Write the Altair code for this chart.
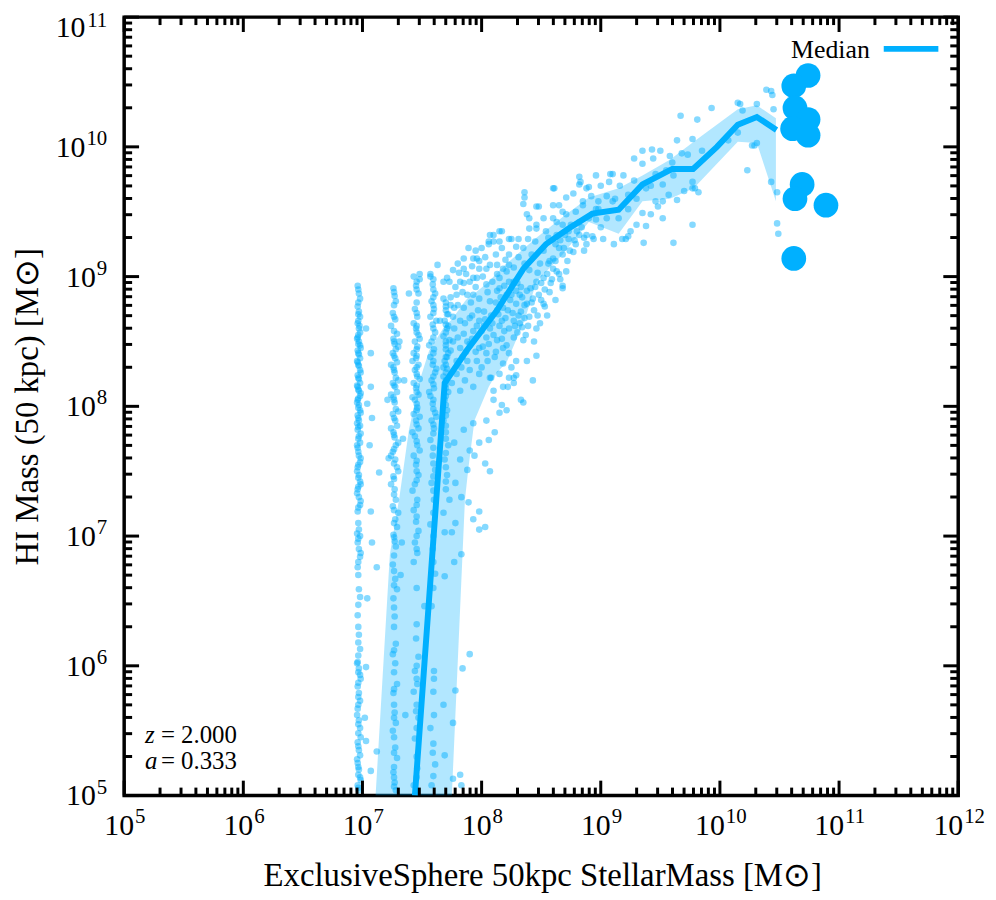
import numpy as np
import pandas as pd
import altair as alt

BLUE = "#00b0ff"
SERIF = "Liberation Serif"
W, H = 840, 784

# median HI mass in stellar-mass bins, log10(M / Msun)
median_log_mstar = [7.44, 7.69, 7.875, 8.125, 8.35, 8.54, 8.73, 8.93, 9.15, 9.35, 9.60, 9.775, 9.975, 10.15, 10.31, 10.475]
median_log_mhi = [5.0, 8.18, 8.43, 8.735, 9.06, 9.25, 9.37, 9.485, 9.515, 9.71, 9.83, 9.83, 10.0, 10.17, 10.23, 10.13]

# shaded scatter band around the median
band_log_mstar = [7.11, 7.23, 7.31, 7.39, 7.48, 7.56, 7.69, 7.75, 7.86, 7.89, 7.94, 8.06, 8.13, 8.21,
                  8.36, 8.46, 8.68, 8.90, 9.15, 9.35, 9.58, 9.78, 10.15, 10.31, 10.47]
band_log_lo = [5.0, 5.0, 5.0, 5.0, 5.0, 5.0, 5.0, 5.0, 7.28, 7.53, 7.89, 8.15, 8.26, 8.34,
               8.66, 8.96, 9.17, 9.42, 9.33, 9.58, 9.60, 9.68, 10.04, 10.03, 9.58]
band_log_hi = [5.0, 6.86, 7.30, 7.82, 8.20, 8.43, 8.62, 8.67, 8.81, 8.84, 8.87, 8.96, 9.03, 9.10,
               9.22, 9.30, 9.46, 9.61, 9.68, 9.78, 9.90, 10.04, 10.29, 10.32, 10.22]

# individual galaxies (log10 M*, log10 MHI); low masses sit on stellar-particle stripes
stripe_1 = [
    (6.96, 8.93), (6.97, 8.87), (6.98, 8.83), (6.96, 8.77), (6.97, 8.73), (6.98, 8.69), (6.96, 8.64),
    (6.97, 8.60), (6.98, 8.57), (6.96, 8.53), (6.97, 8.50), (6.98, 8.47), (6.96, 8.43), (6.97, 8.40),
    (6.98, 8.37), (6.96, 8.34), (6.97, 8.31), (6.98, 8.28), (6.96, 8.24), (6.97, 8.21), (6.98, 8.18),
    (6.96, 8.15), (6.97, 8.12), (6.98, 8.08), (6.96, 8.05), (6.97, 8.01), (6.98, 7.97), (6.96, 7.93),
    (6.97, 7.89), (6.98, 7.85), (6.96, 7.82), (6.97, 7.77), (6.98, 7.72), (6.96, 7.68), (6.97, 7.62),
    (6.98, 7.57), (6.96, 7.53), (6.97, 7.47), (6.98, 7.42), (6.96, 7.36), (6.97, 7.30), (6.98, 7.24),
    (6.96, 7.19), (6.97, 7.05), (6.98, 7.00), (6.96, 6.95), (6.97, 6.90), (6.98, 6.84), (6.96, 6.76),
    (6.97, 6.59), (6.98, 6.53), (6.96, 6.39), (6.97, 6.24), (6.98, 6.13), (6.96, 6.03), (6.97, 5.98),
    (6.98, 5.93), (6.96, 5.84), (6.97, 5.79), (6.98, 5.73), (6.96, 5.67), (6.97, 5.58), (6.98, 5.52),
    (6.96, 5.41), (6.97, 5.35), (6.98, 5.31), (6.96, 5.25), (6.97, 5.20), (6.98, 5.14), (6.96, 5.08),
    (6.97, 5.04), (6.975, 8.62), (6.955, 8.52), (6.985, 8.45), (6.955, 8.35), (6.985, 8.26),
    (6.955, 8.16), (6.985, 8.10), (6.955, 8.03), (6.985, 7.95), (6.955, 7.87), (6.985, 7.79),
    (6.955, 7.70), (6.985, 7.60), (6.955, 7.50), (6.985, 7.40), (6.955, 7.33), (6.985, 7.27),
    (6.955, 7.02), (6.985, 6.87), (6.955, 6.02), (6.985, 5.90), (6.955, 5.62), (6.985, 5.45),
    (6.955, 5.28), (6.985, 5.12), (7.07, 8.41), (7.07, 8.15), (7.08, 7.91), (7.14, 7.49), (7.03, 8.60),
    (7.04, 8.02), (7.07, 7.19), (7.04, 6.52), (7.12, 6.76), (7.08, 6.95), (7.03, 5.99), (7.02, 5.60),
    (7.03, 5.42), (7.12, 5.34), (7.07, 5.19), (7.06, 7.70),
    (6.965, 8.90), (6.965, 8.80), (6.965, 8.71), (6.965, 8.66), (6.965, 8.55), (6.965, 8.48),
    (6.965, 8.41), (6.965, 8.32), (6.965, 8.22), (6.965, 8.13), (6.965, 8.06), (6.965, 7.99),
    (6.965, 7.91), (6.965, 7.84), (6.965, 7.75), (6.965, 7.65), (6.965, 7.55), (6.965, 7.45),
    (6.965, 7.38), (6.965, 7.22), (6.965, 7.10), (6.965, 6.98), (6.965, 6.80), (6.965, 6.70),
    (6.965, 6.47), (6.965, 6.30), (6.965, 6.18), (6.965, 6.08), (6.965, 5.95), (6.965, 5.87),
    (6.965, 5.76), (6.965, 5.70), (6.965, 5.55), (6.965, 5.48), (6.965, 5.38), (6.965, 5.22),
    (6.965, 5.16), (6.965, 5.06),
]
stripe_2 = [
    (7.26, 8.91), (7.27, 8.85), (7.28, 8.81), (7.255, 8.72), (7.275, 8.67), (7.29, 8.56), (7.26, 8.52),
    (7.27, 8.48), (7.28, 8.44), (7.255, 8.41), (7.275, 8.37), (7.29, 8.34), (7.26, 8.30), (7.27, 8.26),
    (7.28, 8.22), (7.255, 8.18), (7.275, 8.15), (7.29, 8.11), (7.26, 8.07), (7.27, 8.03), (7.28, 7.98),
    (7.255, 7.94), (7.275, 7.89), (7.29, 7.85), (7.26, 7.80), (7.27, 7.76), (7.28, 7.70), (7.255, 7.65),
    (7.275, 7.59), (7.29, 7.53), (7.26, 7.46), (7.27, 7.36), (7.28, 7.28), (7.255, 7.23), (7.275, 7.13),
    (7.29, 7.07), (7.26, 7.01), (7.27, 6.96), (7.28, 6.92), (7.255, 6.78), (7.275, 6.67), (7.29, 6.59),
    (7.26, 6.52), (7.27, 6.38), (7.28, 6.17), (7.255, 6.09), (7.275, 6.02), (7.29, 5.86), (7.26, 5.79),
    (7.27, 5.64), (7.28, 5.56), (7.255, 5.50), (7.275, 5.37), (7.29, 5.29), (7.26, 5.18), (7.27, 5.10),
    (7.28, 5.04), (7.24, 8.62), (7.30, 8.46), (7.24, 8.32), (7.30, 8.20), (7.24, 8.09), (7.30, 7.96),
    (7.24, 7.83), (7.30, 7.72), (7.24, 7.62), (7.30, 7.50), (7.24, 7.40), (7.30, 7.18), (7.33, 6.95),
    (7.32, 6.70), (7.36, 5.62), (7.21, 8.05), (7.31, 8.50), (7.35, 8.20), (7.22, 7.60), (7.34, 7.75),
    (7.265, 8.88), (7.265, 8.78), (7.265, 8.69), (7.265, 8.58), (7.265, 8.50), (7.265, 8.39),
    (7.265, 8.28), (7.265, 8.16), (7.265, 8.05), (7.265, 7.91), (7.265, 7.78), (7.265, 7.67),
    (7.265, 7.56), (7.265, 7.44), (7.265, 7.32), (7.265, 7.20), (7.265, 7.10), (7.265, 6.99),
    (7.265, 6.85), (7.265, 6.73), (7.265, 6.62), (7.265, 6.45), (7.265, 6.30), (7.265, 6.12),
    (7.265, 5.95), (7.265, 5.82), (7.265, 5.70), (7.265, 5.60), (7.265, 5.45), (7.265, 5.33),
    (7.265, 5.22), (7.265, 5.14), (7.265, 5.07),
]
stripe_3 = [
    (7.43, 9.00), (7.45, 8.93), (7.47, 8.87), (7.44, 8.75), (7.46, 8.69), (7.43, 8.64), (7.45, 8.60),
    (7.47, 8.55), (7.44, 8.50), (7.46, 8.46), (7.43, 8.41), (7.45, 8.37), (7.47, 8.32), (7.44, 8.28),
    (7.46, 8.23), (7.43, 8.18), (7.45, 8.14), (7.47, 8.09), (7.44, 8.05), (7.46, 7.99), (7.43, 7.94),
    (7.45, 7.89), (7.47, 7.83), (7.44, 7.77), (7.46, 7.70), (7.43, 7.62), (7.45, 7.55), (7.47, 7.47),
    (7.44, 7.40), (7.46, 7.28), (7.43, 7.20), (7.45, 7.11), (7.47, 7.04), (7.44, 6.95), (7.46, 6.87),
    (7.43, 6.80), (7.52, 6.46), (7.45, 6.21), (7.47, 6.07), (7.44, 5.96), (7.46, 5.86), (7.43, 5.80),
    (7.45, 5.65), (7.47, 5.60), (7.44, 5.44), (7.46, 5.21), (7.43, 5.08), (7.48, 8.52), (7.42, 8.35),
    (7.48, 8.21), (7.42, 8.07), (7.48, 7.92), (7.42, 7.80), (7.48, 7.66), (7.42, 7.35),
    (7.455, 8.96), (7.455, 8.90), (7.455, 8.80), (7.455, 8.72), (7.455, 8.62), (7.455, 8.57),
    (7.455, 8.44), (7.455, 8.39), (7.455, 8.30), (7.455, 8.25), (7.455, 8.16), (7.455, 8.11),
    (7.455, 8.02), (7.455, 7.97), (7.455, 7.86), (7.455, 7.73), (7.455, 7.58), (7.455, 7.50),
    (7.455, 7.43), (7.455, 7.24), (7.455, 7.15), (7.455, 7.00), (7.455, 6.90), (7.455, 6.60),
    (7.455, 6.32), (7.455, 6.00), (7.455, 5.90), (7.455, 5.70), (7.455, 5.52), (7.455, 5.30),
    (7.455, 5.14),
]
stripe_4 = [
    (7.57, 9.02), (7.59, 8.94), (7.61, 8.87), (7.58, 8.81), (7.60, 8.75), (7.57, 8.69), (7.59, 8.63),
    (7.61, 8.57), (7.58, 8.50), (7.60, 8.44), (7.57, 8.38), (7.59, 8.32), (7.61, 8.26), (7.58, 8.20),
    (7.60, 8.14), (7.57, 8.08), (7.59, 8.02), (7.61, 7.95), (7.58, 7.89), (7.60, 7.83), (7.57, 7.74),
    (7.59, 7.62), (7.61, 7.51), (7.58, 7.41), (7.60, 7.28), (7.57, 7.09), (7.59, 6.90), (7.61, 6.71),
    (7.58, 6.46), (7.60, 5.96), (7.57, 5.52), (7.59, 5.33), (7.61, 5.24), (7.58, 5.08), (7.62, 8.66),
    (7.56, 8.47), (7.62, 8.29), (7.56, 8.11), (7.62, 7.92),
    (7.595, 8.98), (7.595, 8.90), (7.595, 8.84), (7.595, 8.78), (7.595, 8.72), (7.595, 8.60),
    (7.595, 8.53), (7.595, 8.41), (7.595, 8.35), (7.595, 8.23), (7.595, 8.17), (7.595, 8.05),
    (7.595, 7.98), (7.595, 7.86), (7.595, 7.79), (7.595, 7.68), (7.595, 7.56), (7.595, 7.46),
    (7.595, 7.35), (7.595, 7.18), (7.595, 7.00), (7.595, 6.80), (7.595, 6.60), (7.595, 5.80),
    (7.595, 5.40), (7.595, 5.15),
]
stripe_5 = [
    (7.68, 8.83), (7.70, 8.77), (7.72, 8.71), (7.69, 8.66), (7.71, 8.60), (7.68, 8.54), (7.70, 8.47),
    (7.72, 8.41), (7.69, 8.35), (7.71, 8.29), (7.68, 8.23), (7.70, 8.17), (7.72, 8.11), (7.69, 8.05),
    (7.71, 7.97), (7.68, 7.89), (7.70, 7.80), (7.72, 7.70), (7.69, 7.59), (7.71, 7.47), (7.70, 7.36),
    (7.70, 8.80), (7.70, 8.74), (7.70, 8.63), (7.70, 8.57), (7.70, 8.50), (7.70, 8.44), (7.70, 8.38),
    (7.70, 8.32), (7.70, 8.26), (7.70, 8.20), (7.70, 8.14), (7.70, 8.08), (7.70, 8.01), (7.70, 7.93),
    (7.70, 7.85), (7.70, 7.75), (7.70, 7.64), (7.70, 7.53), (7.70, 7.42),
]
lower_tail = [
    (7.68, 7.18), (7.69, 7.03), (7.75, 7.03), (7.77, 6.80), (7.69, 6.69), (7.60, 5.90), (7.68, 5.70),
    (7.60, 5.62), (7.76, 5.56), (7.69, 5.31), (7.76, 5.13), (7.82, 5.16), (7.83, 5.08), (7.84, 5.98),
    (7.78, 5.81), (7.83, 6.86), (7.90, 6.09), (7.98, 7.19), (8.03, 7.07), (7.98, 7.05), (7.88, 7.51),
    (7.94, 7.62), (8.04, 7.89), (8.10, 8.05), (8.17, 8.01), (8.06, 7.74), (8.29, 8.24), (8.38, 8.35),
    (8.33, 8.05), (8.21, 7.97), (8.46, 8.39), (8.43, 8.20), (8.35, 8.03), (8.11, 7.80), (7.98, 7.72),
    (8.03, 7.56), (8.07, 7.50), (8.15, 7.95), (8.23, 8.22), (8.27, 8.18), (8.18, 8.15), (8.22, 8.15),
    (8.08, 8.22), (8.10, 8.12), (7.93, 7.87), (7.90, 7.66), (7.85, 7.82), (7.77, 7.72), (7.82, 7.59),
    (7.78, 7.41), (7.83, 7.30), (7.73, 7.28), (7.89, 7.26), (7.93, 7.13), (7.78, 7.10),
]
blob = [
    (8.60, 9.68), (8.36, 9.61), (8.35, 9.56), (8.71, 9.61), (8.77, 9.64), (8.82, 9.71), (8.90, 9.69),
    (8.46, 9.54), (8.38, 9.48), (8.60, 9.55), (8.68, 9.50), (8.79, 9.50), (8.85, 9.55), (8.98, 9.58),
    (8.96, 9.52), (8.07, 9.32), (8.15, 9.35), (8.10, 9.27), (8.06, 9.25), (8.23, 9.29), (8.31, 9.29),
    (8.29, 9.23), (8.39, 9.29), (8.46, 9.40), (8.40, 9.37), (8.52, 9.45), (8.54, 9.35), (8.63, 9.42),
    (8.68, 9.40), (8.75, 9.40), (8.82, 9.32), (8.88, 9.25), (8.93, 9.31), (9.02, 9.29), (8.73, 9.29),
    (8.65, 9.22), (8.60, 9.14), (8.63, 9.04), (8.68, 8.91), (8.46, 8.96), (8.52, 8.99), (8.43, 8.83),
    (8.38, 8.79), (8.33, 8.73), (8.27, 8.66), (8.32, 8.64), (8.46, 8.60), (8.52, 8.79), (8.38, 8.89),
    (8.29, 8.89), (8.29, 8.79), (8.23, 8.96), (8.21, 8.86), (8.18, 8.76), (8.14, 8.71), (8.23, 8.60),
    (8.27, 8.53), (8.35, 8.51), (8.18, 8.45), (8.23, 8.41), (8.29, 8.35), (8.25, 8.30), (8.18, 8.33),
    (8.11, 8.38), (8.13, 8.51), (8.04, 8.53), (8.07, 8.60), (7.98, 8.66), (8.02, 8.73), (8.07, 8.81),
    (8.13, 8.89), (8.15, 8.99), (8.18, 9.06), (8.23, 9.09), (8.13, 9.09), (8.04, 9.06), (7.98, 9.12),
    (7.93, 9.14), (7.85, 9.14), (7.96, 8.99), (7.90, 8.96), (7.82, 8.96), (7.73, 8.96), (7.68, 8.96),
    (7.79, 8.86), (7.88, 8.86), (7.93, 8.86), (7.98, 8.83), (7.85, 8.76), (7.77, 8.76), (7.71, 8.71),
    (7.65, 8.66), (7.82, 8.66), (7.90, 8.68), (7.93, 8.58), (7.85, 8.56), (7.77, 8.60), (7.73, 8.51),
    (7.82, 8.45), (7.90, 8.48), (7.98, 8.45), (8.04, 8.41), (7.96, 8.35), (7.88, 8.35), (7.79, 8.35),
    (7.71, 8.38), (7.68, 8.30), (7.79, 8.25), (7.90, 8.28), (7.98, 8.25), (8.07, 8.22), (8.15, 8.25),
    (8.27, 8.22), (8.48, 9.54), (7.63, 9.09), (7.48, 9.02), (7.48, 8.98), (7.57, 9.00), (7.39, 8.87),
    (7.71, 8.99), (7.85, 8.95), (7.96, 9.14), (8.00, 9.22), (8.06, 9.27), (8.10, 9.32), (8.17, 9.35),
    (8.25, 9.29), (8.17, 9.22), (8.40, 9.45), (8.46, 9.37), (8.23, 9.17), (7.98, 9.06), (7.93, 8.99),
    (8.07, 9.09), (8.13, 9.02), (8.21, 9.04), (8.04, 8.94), (8.15, 8.91), (8.27, 8.96), (8.32, 8.86),
    (7.85, 9.06), (8.15, 9.27),
    (7.76, 9.05), (7.80, 9.10), (7.87, 9.02), (7.92, 9.08), (7.95, 8.92), (8.01, 9.00), (8.05, 8.88),
    (8.09, 8.96), (8.12, 8.80), (8.16, 8.84), (8.19, 8.93), (8.24, 8.82), (8.26, 8.72), (8.30, 8.95),
    (8.34, 8.84), (8.36, 8.68), (8.41, 8.91), (8.44, 8.74), (8.48, 8.86), (8.50, 8.95), (8.55, 9.02),
    (8.57, 8.88), (8.49, 9.10), (8.42, 9.17), (8.36, 9.10), (8.31, 9.15), (8.27, 9.07), (8.20, 9.13),
    (8.12, 9.17), (8.03, 9.15), (7.95, 9.20), (7.89, 9.22), (7.81, 9.03), (7.74, 8.84), (7.76, 8.69),
    (7.80, 8.53), (7.74, 8.43), (7.83, 8.30), (7.87, 8.42), (7.92, 8.52), (7.96, 8.62), (8.00, 8.58),
    (8.03, 8.67), (8.08, 8.70), (8.10, 8.55), (8.15, 8.62), (8.20, 8.68), (8.17, 8.52), (8.21, 8.47),
    (8.30, 8.57), (8.34, 8.61), (8.40, 8.69), (8.37, 8.55), (8.44, 8.50), (7.86, 8.20), (7.93, 8.15),
    (8.00, 8.30), (8.05, 8.35), (8.12, 8.42), (7.75, 8.18), (7.82, 8.12), (8.52, 9.20), (8.56, 9.30),
    (8.45, 9.27), (8.35, 9.22), (8.40, 9.05), (8.47, 9.03), (8.62, 9.25), (8.70, 9.32), (8.78, 9.28),
    (8.84, 9.38), (8.90, 9.45), (8.86, 9.20), (8.72, 9.12), (8.66, 8.98), (8.55, 8.70), (8.49, 8.64),
    (8.62, 8.82),
    (7.78, 8.92), (7.84, 8.88), (7.91, 8.80), (7.97, 8.74), (8.02, 8.62), (8.06, 8.48), (8.09, 8.64),
    (8.13, 8.74), (8.17, 8.66), (8.19, 8.58), (8.22, 8.74), (8.25, 8.86), (8.28, 8.62), (8.31, 8.70),
    (8.33, 8.92), (8.36, 8.78), (8.39, 8.62), (8.42, 8.80), (8.45, 8.92), (8.47, 8.70), (8.50, 8.82),
    (8.53, 8.90), (8.56, 9.10), (8.59, 8.98), (8.62, 9.12), (8.66, 9.28), (8.69, 9.22), (8.74, 9.20),
    (8.80, 9.35), (8.86, 9.30), (7.80, 8.78), (7.86, 8.64), (7.92, 8.70), (7.88, 8.50), (7.95, 8.42),
    (8.01, 8.46), (7.84, 8.38), (7.76, 8.50), (7.72, 8.62), (7.74, 8.78),
]
upper = [
    (8.36, 9.65), (8.61, 9.68), (8.83, 9.73), (8.96, 9.78), (9.08, 9.79), (9.35, 9.97), (9.43, 9.98),
    (9.67, 10.24), (9.81, 10.21), (9.93, 10.30), (10.17, 10.33), (10.31, 10.33), (10.44, 10.40),
    (10.45, 10.29), (10.39, 10.44), (10.43, 10.43), (10.15, 10.34), (8.68, 8.93), (8.53, 8.77),
    (9.11, 9.25), (9.21, 9.29), (9.36, 9.26), (9.38, 9.39), (9.52, 9.45), (9.61, 9.26), (9.77, 9.40),
    (9.77, 9.68), (9.48, 9.54), (9.35, 9.49), (10.23, 9.82), (10.27, 10.01), (10.29, 10.01),
    (10.43, 9.73), (10.48, 9.65), (10.48, 9.41), (10.49, 9.33), (10.07, 10.05), (9.18, 9.29),
    (9.23, 9.31), (9.25, 9.35), (8.94, 9.29), (8.71, 9.04), (8.58, 8.95), (8.77, 9.19), (8.79, 9.25),
    (8.88, 9.32), (8.96, 9.44), (8.98, 9.52), (9.07, 9.73), (9.10, 9.79), (8.82, 9.77), (8.88, 9.68),
    (9.50, 9.97), (9.64, 10.05), (9.77, 10.06), (9.28, 9.91), (9.35, 9.87), (9.44, 9.91), (9.60, 9.88),
    (9.61, 9.78), (9.52, 9.71), (9.57, 9.63), (9.38, 9.68), (9.19, 9.78), (9.23, 9.63), (9.52, 9.58),
    (9.64, 9.59), (9.77, 9.73), (9.79, 9.68), (9.82, 9.65), (9.73, 9.94), (9.85, 9.97), (9.10, 9.58),
    (8.85, 9.58), (8.93, 9.48), (9.23, 9.52), (9.46, 9.58), (8.82, 9.42), (8.71, 9.48), (8.65, 9.55),
    (8.60, 9.45), (8.73, 9.35), (8.63, 9.32), (8.68, 9.17), (8.57, 9.12), (8.60, 9.06), (8.65, 9.02),
    (10.19, 10.28), (10.15, 10.11), (10.31, 10.03),
    (9.00, 9.38), (9.05, 9.45), (9.12, 9.60), (9.16, 9.70), (9.28, 9.74), (9.30, 9.60), (9.42, 9.70),
    (9.46, 9.79), (9.55, 9.82), (9.58, 9.93), (9.68, 9.95), (9.70, 9.66), (9.05, 9.62), (8.92, 9.62),
    (9.00, 9.70), (9.15, 9.45), (9.30, 9.40), (9.42, 9.48),
]

# most massive objects, drawn as big discs
big_log_mstar = [10.74, 10.62, 10.63, 10.74, 10.61, 10.74, 10.69, 10.63, 10.89, 10.62]
big_log_mhi = [10.55, 10.47, 10.30, 10.21, 10.14, 10.09, 9.71, 9.60, 9.55, 9.14]

redshift_text = ["2.000", "0.333"]

# tick labels are written as 10 with a raised exponent
x_exps_short = ["5", "6", "7", "8", "9"]
x_exps_long = ["10", "11", "12"]
y_exps_short = ["5", "6", "7", "8", "9"]
y_exps_long = ["10"]
y_exps_top = ["11"]

minor_steps = [2, 3, 4, 5, 6, 7, 8, 9]
x_major = [10.0 ** k for k in range(5, 13)]
x_minor = [m * 10.0 ** k for k in range(5, 12) for m in minor_steps]
y_major = [10.0 ** k for k in range(5, 12)]
y_minor = [m * 10.0 ** k for k in range(5, 11) for m in minor_steps]

x_scale = alt.Scale(type="log", domain=[1e5, 1e12], nice=False)
y_scale = alt.Scale(type="log", domain=[1e5, 1e11], nice=False)


def points_frame(*groups):
    arr = np.array([p for g in groups for p in g])
    return pd.DataFrame({"mstar": 10 ** arr[:, 0], "mhi": 10 ** arr[:, 1]})


galaxies = points_frame(stripe_1, stripe_2, stripe_3, stripe_4, stripe_5, lower_tail, blob, upper)
median_df = pd.DataFrame({"mstar": 10 ** np.array(median_log_mstar), "mhi": 10 ** np.array(median_log_mhi)})
band_df = pd.DataFrame({
    "mstar": 10 ** np.array(band_log_mstar),
    "lo": 10 ** np.array(band_log_lo),
    "hi": 10 ** np.array(band_log_hi),
})
big_df = pd.DataFrame({"mstar": 10 ** np.array(big_log_mstar), "mhi": 10 ** np.array(big_log_mhi)})

x_axis = alt.Axis(
    values=x_major, labels=False, ticks=False, tickSize=0, domain=False, grid=False,
    title="ExclusiveSphere 50kpc StellarMass [M⊙]", titleFont=SERIF, titleFontSize=33,
    titleFontWeight="normal", titleColor="black", titleX=W / 2 + 1, titleY=91,
    titleAlign="center", titleBaseline="alphabetic",
)
y_axis = alt.Axis(
    values=y_major, labels=False, ticks=False, tickSize=0, domain=False, grid=False,
    title="HI Mass (50 kpc) [M⊙]", titleFont=SERIF, titleFontSize=33, titleFontWeight="normal",
    titleColor="black", titleX=-87, titleY=H / 2, titleAngle=270, titleAlign="center",
    titleBaseline="alphabetic",
)

X = alt.X("mstar:Q", scale=x_scale, axis=x_axis)
Y = alt.Y("mhi:Q", scale=y_scale, axis=y_axis)

band = alt.Chart(band_df).mark_area(color=BLUE, opacity=0.3, clip=True).encode(
    x=X, y=alt.Y("lo:Q", scale=y_scale, axis=y_axis), y2="hi:Q",
)

scatter = alt.Chart(galaxies).mark_circle(color=BLUE, opacity=0.48, size=44, clip=True).encode(x=X, y=Y)

median = alt.Chart(median_df).mark_line(color=BLUE, strokeWidth=6, clip=True).encode(x=X, y=Y)

big = alt.Chart(big_df).mark_circle(color=BLUE, opacity=1, size=620).encode(x=X, y=Y)


# inward ticks on all four sides of the frame
def x_ticks(values, length):
    src = alt.Chart(pd.DataFrame({"mstar": values}))
    bottom = src.mark_rule(color="black", strokeWidth=3).encode(x=X, y=alt.value(H), y2=alt.value(H - length))
    top = src.mark_rule(color="black", strokeWidth=3).encode(x=X, y=alt.value(0), y2=alt.value(length))
    return [bottom, top]


def y_ticks(values, length):
    src = alt.Chart(pd.DataFrame({"mhi": values}))
    left = src.mark_rule(color="black", strokeWidth=3).encode(y=Y, x=alt.value(0), x2=alt.value(length))
    right = src.mark_rule(color="black", strokeWidth=3).encode(y=Y, x=alt.value(W), x2=alt.value(W - length))
    return [left, right]


def x_labels(exps, shift):
    df = pd.DataFrame({"mstar": [10.0 ** int(e) for e in exps], "base": "10", "exp": exps})
    src = alt.Chart(df)
    base = src.mark_text(font=SERIF, fontSize=30, align="right", baseline="alphabetic", dx=shift,
                         color="black").encode(x=X, y=alt.value(H + 40), text="base:N")
    sup = src.mark_text(font=SERIF, fontSize=21, align="left", baseline="alphabetic", dx=shift + 1,
                        color="black").encode(x=X, y=alt.value(H + 28), text="exp:N")
    return [base, sup]


def y_labels(exps, sup_width, dy_base, dy_sup):
    df = pd.DataFrame({"mhi": [10.0 ** int(e) for e in exps], "base": "10", "exp": exps})
    src = alt.Chart(df)
    base = src.mark_text(font=SERIF, fontSize=30, align="right", baseline="alphabetic", dy=dy_base,
                         color="black").encode(y=Y, x=alt.value(-18 - sup_width), text="base:N")
    sup = src.mark_text(font=SERIF, fontSize=21, align="right", baseline="alphabetic", dy=dy_sup,
                        color="black").encode(y=Y, x=alt.value(-17), text="exp:N")
    return [base, sup]


ticks = x_ticks(x_major, 15) + x_ticks(x_minor, 8) + y_ticks(y_major, 15) + y_ticks(y_minor, 8)
labels = (x_labels(x_exps_short, 10) + x_labels(x_exps_long, 5)
          + y_labels(y_exps_short, 10.5, 10, -2) + y_labels(y_exps_long, 21, 10, -2)
          + y_labels(y_exps_top, 21, 20, 10))

legend_text = alt.Chart(pd.DataFrame({"t": ["Median"]})).mark_text(
    font=SERIF, fontSize=26, align="right", baseline="middle", color="black"
).encode(text="t:N", x=alt.value(751), y=alt.value(33))
legend_line = alt.Chart(pd.DataFrame({"t": ["Median"]})).mark_rule(color=BLUE, strokeWidth=6).encode(
    x=alt.value(765), x2=alt.value(820), y=alt.value(32)
)

notes = []
for i, (sym, val) in enumerate(zip(["z", "a"], redshift_text)):
    df = pd.DataFrame({"s": [sym], "v": ["= " + val]})
    ypos = 723 + 26 * i
    notes.append(alt.Chart(df).mark_text(
        font=SERIF, fontSize=25, fontStyle="italic", align="left", baseline="middle", color="black"
    ).encode(text="s:N", x=alt.value(21), y=alt.value(ypos)))
    notes.append(alt.Chart(df).mark_text(
        font=SERIF, fontSize=25, align="left", baseline="middle", color="black"
    ).encode(text="v:N", x=alt.value(37), y=alt.value(ypos)))

chart = alt.layer(band, scatter, median, big, *ticks, *labels, legend_line, legend_text, *notes).properties(
    width=W, height=H,
    autosize=alt.AutoSizeParams(type="none"),
    padding={"left": 117, "top": 6, "right": 30, "bottom": 100},
).configure_view(stroke="black", strokeWidth=3.5)

chart.save("out.html", embed_options={"renderer": "svg", "actions": False})
